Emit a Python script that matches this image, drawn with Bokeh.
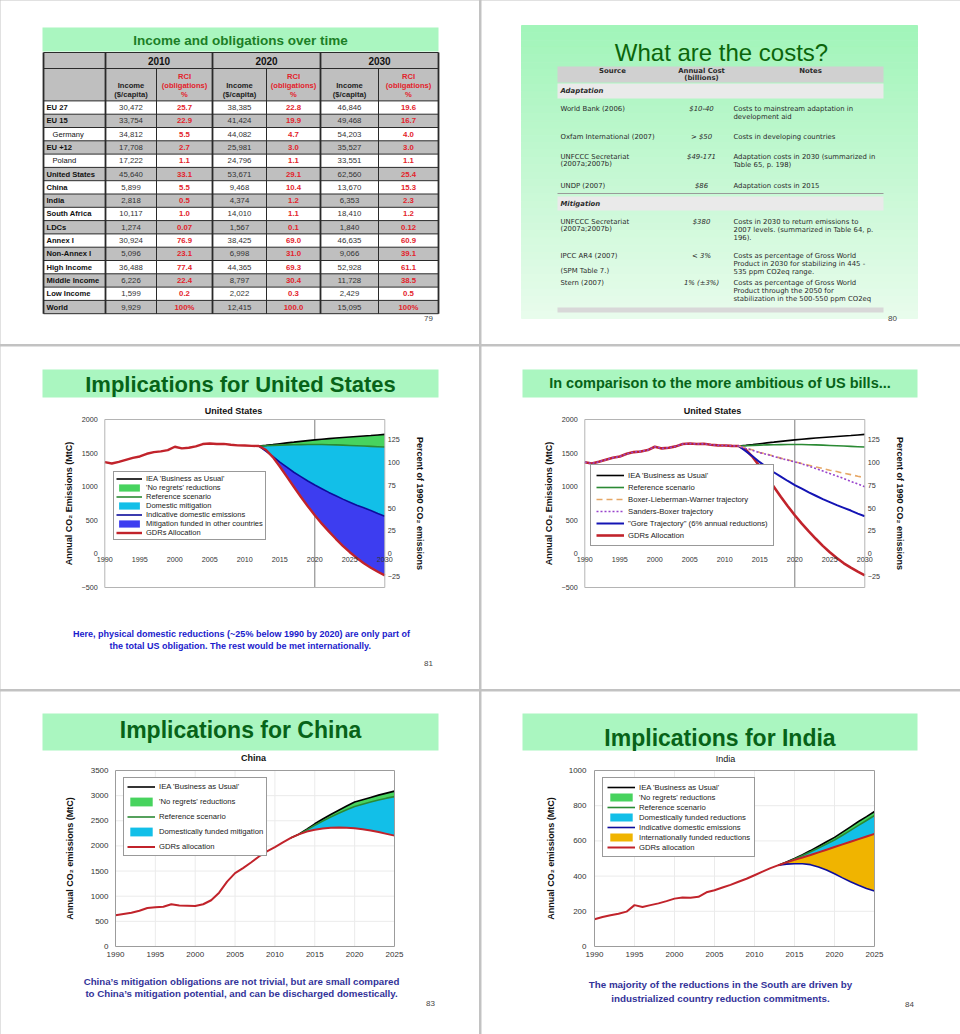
from bokeh.plotting import figure
from bokeh.models import (Range1d, LinearAxis, Legend, LegendItem, FixedTicker)
from bokeh.layouts import row, column
from bokeh.embed import file_html
from bokeh.resources import INLINE
from bokeh.core.properties import value

SANS = "Liberation Sans"
WIDE = "DejaVu Sans"
MINT = "#aaf6c0"
TITLE_GREEN = "#076318"
DIV = "#c2c2c2"
GRAY = "#bfbfbf"
RED_TXT = "#e3232c"

# ====================== DATA ======================
# --- slide 79 table ---
T79_TITLE = "Income and obligations over time"
T79_YEARS = ["2010", "2020", "2030"]
T79_ROWS = ["EU 27", "EU 15", "Germany", "EU +12", "Poland", "United States", "China", "India",
            "South Africa", "LDCs", "Annex I", "Non-Annex I", "High Income", "Middle Income",
            "Low Income", "World"]
T79_INDENTED = ["Germany", "Poland"]
INC_2010 = ["30,472", "33,754", "34,812", "17,708", "17,222", "45,640", "5,899", "2,818", "10,117",
            "1,274", "30,924", "5,096", "36,488", "6,226", "1,599", "9,929"]
RCI_2010 = ["25.7", "22.9", "5.5", "2.7", "1.1", "33.1", "5.5", "0.5", "1.0", "0.07", "76.9", "23.1",
            "77.4", "22.4", "0.2", "100%"]
INC_2020 = ["38,385", "41,424", "44,082", "25,981", "24,796", "53,671", "9,468", "4,374", "14,010",
            "1,567", "38,425", "6,998", "44,365", "8,797", "2,022", "12,415"]
RCI_2020 = ["22.8", "19.9", "4.7", "3.0", "1.1", "29.1", "10.4", "1.2", "1.1", "0.1", "69.0", "31.0",
            "69.3", "30.4", "0.3", "100.0"]
INC_2030 = ["46,846", "49,468", "54,203", "35,527", "33,551", "62,560", "13,670", "6,353", "18,410",
            "1,840", "46,635", "9,066", "52,928", "11,728", "2,429", "15,095"]
RCI_2030 = ["19.6", "16.7", "4.0", "3.0", "1.1", "25.4", "15.3", "2.3", "1.2", "0.12", "60.9", "39.1",
            "61.1", "38.5", "0.5", "100%"]

# --- slide 80 table ---
S80_TITLE = "What are the costs?"
S80_HEAD = ["Source", "Annual Cost", "(billions)", "Notes"]
S80_SECTIONS = ["Adaptation", "Mitigation"]
S80_SOURCES = [["World Bank (2006)"], ["Oxfam International (2007)"],
               ["UNFCCC Secretariat", "(2007a;2007b)"], ["UNDP (2007)"],
               ["UNFCCC Secretariat", "(2007a;2007b)"], ["IPCC AR4 (2007)", "", "(SPM Table 7.)"],
               ["Stern (2007)"]]
S80_COSTS = ["$10-40", "> $50", "$49-171", "$86", "$380", "< 3%", "1% (\u00b13%)"]
S80_NOTES = [["Costs to mainstream adaptation in", "development aid"],
             ["Costs in developing countries"],
             ["Adaptation costs in 2030 (summarized in", "Table 65, p. 198)"],
             ["Adaptation costs in 2015"],
             ["Costs in 2030 to return emissions to", "2007 levels. (summarized in Table 64, p.", "196)."],
             ["Costs as percentage of Gross World", "Product in 2030 for stabilizing in 445 -",
              "535 ppm CO2eq range."],
             ["Costs as percentage of Gross World", "Product through the 2050 for",
              "stabilization in the 500-550 ppm CO2eq"]]

# --- United States (slides 81, 82) ---
US_HIST_YEARS = list(range(1990, 2013))
US_HIST = [1365, 1345, 1370, 1400, 1430, 1450, 1490, 1515, 1525, 1545, 1595, 1570, 1580, 1600,
           1635, 1642, 1636, 1638, 1625, 1615, 1613, 1608, 1605]
US_PROJ_YEARS = list(range(2012, 2031))
US_BAU = [1605, 1615, 1627, 1640, 1652, 1663, 1675, 1686, 1697, 1706, 1715, 1724, 1732, 1740,
          1748, 1755, 1762, 1770, 1778]
US_REF = [1605, 1610, 1615, 1619, 1622, 1624, 1626, 1627, 1628, 1627, 1625, 1622, 1618, 1614,
          1610, 1605, 1600, 1595, 1590]
US_DOM = [1605, 1530, 1450, 1365, 1290, 1215, 1150, 1085, 1025, 970, 915, 865, 815, 770, 725,
          685, 645, 600, 560]
US_GDR = [1605, 1550, 1440, 1300, 1150, 1000, 850, 710, 575, 450, 335, 225, 120, 25, -60, -140,
          -205, -265, -320]
US_BLW = [1605, 1575, 1545, 1510, 1485, 1455, 1425, 1400, 1370, 1345, 1320, 1295, 1270, 1245,
          1225, 1200, 1180, 1155, 1135]
US_SB = [1605, 1570, 1540, 1505, 1480, 1450, 1420, 1395, 1370, 1340, 1305, 1270, 1235, 1195,
         1160, 1120, 1080, 1040, 1000]
US_X0, US_X1, US_Y0, US_Y1 = 1990, 2030, -500, 2000
US_XTICKS = [1990, 1995, 2000, 2005, 2010, 2015, 2020, 2025, 2030]
US_YTICKS = [-500, 0, 500, 1000, 1500, 2000]
US_PCT_TICKS = [-25, 0, 25, 50, 75, 100, 125]
US_MARK_YEAR = 2020
US_LEG_81 = ["IEA 'Business as Usual'", "'No regrets' reductions", "Reference scenario",
             "Domestic mitigation", "Indicative domestic emissions",
             "Mitigation funded in other countries", "GDRs Allocation"]
US_LEG_82 = ["IEA 'Business as Usual'", "Reference scenario", "Boxer-Lieberman-Warner trajectory",
             "Sanders-Boxer trajectory", "\"Gore Trajectory\" (6% annual reductions)",
             "GDRs Allocation"]

# --- China (slide 83) ---
CN_YEARS = list(range(1990, 2026))
CN_GDR = [620, 645, 670, 710, 765, 780, 790, 840, 815, 810,
          805, 840, 920, 1070, 1290, 1460, 1560, 1670, 1790, 1890,
          1975, 2070, 2160, 2230, 2285, 2320, 2345, 2360, 2365, 2360,
          2350, 2330, 2305, 2275, 2240, 2205]
CN_PROJ_YEARS = list(range(2012, 2026))
CN_BAU = [2160, 2235, 2335, 2440, 2535, 2625, 2710, 2795, 2875, 2920, 2965, 3010, 3050, 3090]
CN_REF = [2160, 2230, 2320, 2410, 2495, 2575, 2650, 2720, 2785, 2830, 2875, 2915, 2950, 2980]
CN_X0, CN_X1, CN_Y0, CN_Y1 = 1990, 2025, 0, 3500
CN_XTICKS = [1990, 1995, 2000, 2005, 2010, 2015, 2020, 2025]
CN_YTICKS = [0, 500, 1000, 1500, 2000, 2500, 3000, 3500]
CN_LEG = ["IEA 'Business as Usual'", "'No regrets' reductions", "Reference scenario",
          "Domestically funded mitigation", "GDRs allocation"]

# --- India (slide 84) ---
IN_YEARS = list(range(1990, 2026))
IN_GDR = [155, 168, 178, 186, 198, 235, 225, 235, 245, 258,
          272, 278, 277, 282, 308, 320, 335, 350, 368, 385,
          405, 425, 445, 462, 478, 492, 506, 520, 535, 550,
          565, 580, 595, 610, 625, 640]
IN_PROJ_YEARS = list(range(2013, 2026))
IN_BAU = [462, 480, 500, 522, 545, 570, 595, 620, 650, 680, 710, 738, 767]
IN_REF = [462, 478, 497, 517, 538, 560, 582, 605, 632, 660, 688, 716, 744]
IN_DOM = [462, 468, 470, 470, 465, 452, 435, 413, 390, 368, 348, 330, 315]
IN_X0, IN_X1, IN_Y0, IN_Y1 = 1990, 2025, 0, 1000
IN_XTICKS = [1990, 1995, 2000, 2005, 2010, 2015, 2020, 2025]
IN_YTICKS = [0, 200, 400, 600, 800, 1000]
IN_LEG = ["IEA 'Business as Usual'", "'No regrets' reductions", "Reference scenario",
          "Domestically funded reductions", "Indicative domestic emissions",
          "Internationally funded reductions", "GDRs allocation"]

# --- slide texts ---
T81 = "Implications for United States"
T82 = "In comparison to the more ambitious of US bills..."
T83 = "Implications for China"
T84 = "Implications for India"
CAP81 = ["Here, physical domestic reductions (~25% below 1990 by 2020) are only part of",
         "the total US obligation.  The rest would be met internationally."]
CAP83 = ["China\u2019s mitigation obligations are not trivial, but are small compared",
         "to China\u2019s mitigation potential, and can be discharged domestically."]
CAP84 = ["The majority of the reductions in the South are driven by",
         "industrialized country reduction commitments."]

# colours of series
C_BAU = "#000000"
C_REF = "#2b8a34"
C_NOREG = "#47d35e"
C_DOMFILL = "#12bfe8"
C_INTFILL = "#3d3df0"
C_DOM = "#0c0c9c"
C_GDR = "#c1232b"
C_ORANGE = "#f0b400"
C_BLW = "#e6a766"
C_SB = "#9944cc"

COLW = 479          # width of one slide column (two columns + 2px divider = 960)
LEFT_X, RIGHT_X = 0, 481
ROWS = [(0, 344), (346, 689), (691, 1034)]


# ====================== HELPERS ======================
class Map:
    """linear map from reference-page pixels to a slide's data coordinates"""
    def __init__(self, rxa, dxa, rxb, dxb, rya, dya, ryb, dyb):
        self.kx = (dxb - dxa) / (rxb - rxa)
        self.bx = dxa - rxa * self.kx
        self.ky = (dyb - dya) / (ryb - rya)
        self.by = dya - rya * self.ky

    def X(self, rx):
        return self.bx + self.kx * rx

    def Y(self, ry):
        return self.by + self.ky * ry


def slide_fig(m, rx0, ry0, ry1):
    p = figure(width=COLW, height=int(round(ry1 - ry0)),
               x_range=Range1d(m.X(rx0), m.X(rx0 + COLW)),
               y_range=Range1d(m.Y(ry1), m.Y(ry0)), x_axis_location=None,
               y_axis_location=None, toolbar_location=None, output_backend="svg", min_border=0)
    p.outline_line_color = None
    p.grid.visible = False
    p.background_fill_color = "white"
    p.border_fill_color = "white"
    return p


def txt(p, m, rxs, rys, texts, size, color="#000000", style="normal", align="center", font=SANS):
    p.text(x=[m.X(v) for v in rxs], y=[m.Y(v) for v in rys], text=texts, text_font=value(font),
           text_font_size=size, text_font_style=style, text_color=color, text_align=align,
           text_baseline="middle")


def pbox(p, m, l, r, t, b, color, line=None):
    p.quad(left=[m.X(l)], right=[m.X(r)], top=[m.Y(t)], bottom=[m.Y(b)], fill_color=color,
           line_color=line)


def style_axis(ax, size="7.5px", standoff=5, label_standoff=5):
    ax.axis_line_color = None
    ax.major_tick_line_color = None
    ax.minor_tick_line_color = None
    ax.major_tick_out = 0
    ax.major_tick_in = 0
    ax.major_label_standoff = standoff
    ax.major_label_text_font = SANS
    ax.major_label_text_font_size = size
    ax.major_label_text_color = "#333333"
    ax.axis_label_standoff = label_standoff
    ax.axis_label_text_font = SANS
    ax.axis_label_text_font_size = "9px"
    ax.axis_label_text_font_style = "bold"
    ax.axis_label_text_color = "#111111"
    ax.level = "overlay"


def make_legend(p, labels, renderers, loc, gh, sp, pad, gw=27, fs="7.7px"):
    lg = Legend(items=[LegendItem(label=l, renderers=[r]) for l, r in zip(labels, renderers)],
                location=loc, margin=0, padding=pad, spacing=sp, glyph_height=gh,
                label_height=gh, glyph_width=gw, label_standoff=4,
                label_text_font=SANS, label_text_font_size=fs,
                label_text_color="#222222", border_line_color="#333333",
                border_line_width=1, background_fill_color="white",
                background_fill_alpha=1.0)
    p.add_layout(lg)


def slide_head(p, m, bar, title, tsize, ty, ctitle, cx, cy, cstyle):
    pbox(p, m, bar[0], bar[1], bar[2], bar[3], MINT)
    txt(p, m, [(bar[0] + bar[1]) / 2], [ty], [title], tsize, TITLE_GREEN, "bold")
    txt(p, m, [cx], [cy], [ctitle], "9px", "#111111", cstyle)


# ====================== SLIDE 79 ======================
m79 = Map(0, 0, 1, 1, 0, 0, 1, 1)
p79 = slide_fig(m79, LEFT_X, *ROWS[0])
COL_EDGES = [43, 105, 156, 212, 266, 320, 378, 438]
H1_TOP, H2_TOP, H2_BOT, PITCH = 52, 68, 100.4, 13.3
p79.quad(left=[42], right=[438], top=[27], bottom=[51], fill_color=MINT, line_color=None)
txt(p79, m79, [240], [39.5], [T79_TITLE], "13.5px", "#1c7f26", "bold")
p79.quad(left=[COL_EDGES[0]], right=[COL_EDGES[-1]], top=[H1_TOP], bottom=[H2_BOT],
         fill_color=GRAY, line_color=None)
n = len(T79_ROWS)
tops = [H2_BOT + i * PITCH for i in range(n)]
p79.quad(left=[COL_EDGES[0]] * n, right=[COL_EDGES[-1]] * n, top=tops,
         bottom=[t + PITCH for t in tops],
         fill_color=[GRAY if i % 2 else "white" for i in range(n)], line_color=None)
table_bot = tops[-1] + PITCH
hy = [H1_TOP, H2_TOP, H2_BOT] + [t + PITCH for t in tops]
p79.segment(x0=[COL_EDGES[0]] * len(hy), x1=[COL_EDGES[-1]] * len(hy), y0=hy, y1=hy,
            line_color="#2a2a2a", line_width=1)
thick = [COL_EDGES[0], COL_EDGES[1], COL_EDGES[3], COL_EDGES[5], COL_EDGES[7]]
thin = [COL_EDGES[2], COL_EDGES[4], COL_EDGES[6]]
p79.segment(x0=thick, x1=thick, y0=[H1_TOP] * 5, y1=[table_bot] * 5, line_color="#2a2a2a",
            line_width=1.8)
p79.segment(x0=thin, x1=thin, y0=[H2_TOP] * 3, y1=[table_bot] * 3, line_color="#2a2a2a",
            line_width=1)
ycx = [(COL_EDGES[1] + COL_EDGES[3]) / 2, (COL_EDGES[3] + COL_EDGES[5]) / 2,
       (COL_EDGES[5] + COL_EDGES[7]) / 2]
txt(p79, m79, ycx, [(H1_TOP + H2_TOP) / 2] * 3, T79_YEARS, "10px", "#111111", "bold")
ccx = [(COL_EDGES[j] + COL_EDGES[j + 1]) / 2 for j in range(1, 7)]
inc_x = [ccx[0], ccx[2], ccx[4]]
rci_x = [ccx[1], ccx[3], ccx[5]]
for t, yy in (("Income", 85), ("($/capita)", 94.3)):
    txt(p79, m79, inc_x, [yy] * 3, [t] * 3, "7.6px", "#222222", "bold")
for t, yy in (("RCI", 75.5), ("(obligations)", 85), ("%", 94.3)):
    txt(p79, m79, rci_x, [yy] * 3, [t] * 3, "7.6px", RED_TXT, "bold")
rcy = [t + PITCH / 2 for t in tops]
p79.text(x=[52 if r in T79_INDENTED else 46 for r in T79_ROWS], y=rcy, text=T79_ROWS,
         text_font=value(SANS),
         text_font_style=["normal" if r in T79_INDENTED else "bold" for r in T79_ROWS],
         text_font_size="7.6px", text_color="#111111", text_align="left",
         text_baseline="middle")
for j, (vals, rci) in enumerate([(INC_2010, False), (RCI_2010, True), (INC_2020, False),
                                 (RCI_2020, True), (INC_2030, False), (RCI_2030, True)]):
    txt(p79, m79, [ccx[j]] * n, rcy, vals, "7.8px", RED_TXT if rci else "#333333",
        "bold" if rci else "normal")
txt(p79, m79, [428], [318], ["79"], "8px", "#444444")

# ====================== SLIDE 80 ======================
m80 = Map(0, 0, 1, 1, 0, 0, 1, 1)
p80 = slide_fig(m80, RIGHT_X, *ROWS[0])
NB = 40
bg_top, bg_bot = 25, 318
c0, c1 = (162, 245, 186), (232, 252, 236)
bands_t = [bg_top + (bg_bot - bg_top) * k / NB for k in range(NB)]
bands_b = [bg_top + (bg_bot - bg_top) * (k + 1) / NB for k in range(NB)]
bands_c = ["#%02x%02x%02x" % tuple(int(c0[i] + (c1[i] - c0[i]) * k / (NB - 1)) for i in range(3))
           for k in range(NB)]
p80.quad(left=[521] * NB, right=[917] * NB, top=bands_t, bottom=bands_b, fill_color=bands_c,
         line_color=bands_c, line_width=1)
txt(p80, m80, [721], [52], [S80_TITLE], "24px", "#0b650b")
p80.quad(left=[557], right=[883], top=[66], bottom=[82], fill_color="#d0d0d0", line_color=None)
p80.quad(left=[557, 557], right=[883, 883], top=[83, 196], bottom=[98, 210],
         fill_color="#eaeaea", line_color=None)
p80.quad(left=[557], right=[883], top=[307], bottom=[312], fill_color="#d8d8d8", line_color=None)
p80.segment(x0=[557], x1=[883], y0=[193], y1=[193], line_color="#9a9a9a", line_width=1)
txt(p80, m80, [612, 701, 701, 810], [70, 70, 77.5, 70], S80_HEAD, "6.9px", "#2a2a2a", "bold",
    font=WIDE)
txt(p80, m80, [560, 560], [90.5, 203], S80_SECTIONS, "6.9px", "#2a2a2a", "bold italic", "left",
    font=WIDE)
ROW_Y = [108, 136, 156, 185, 221, 255, 282]
LP = 8
sx, sy, st = [], [], []
nx, ny, nt = [], [], []
for y0, srcs, notes in zip(ROW_Y, S80_SOURCES, S80_NOTES):
    for k, s in enumerate(srcs):
        if s:
            sx.append(560); sy.append(y0 + k * LP * 0.95); st.append(s)
    for k, s in enumerate(notes):
        nx.append(733); ny.append(y0 + k * LP); nt.append(s)
txt(p80, m80, sx, sy, st, "6.9px", "#2a2a2a", "normal", "left", font=WIDE)
txt(p80, m80, nx, ny, nt, "6.9px", "#2a2a2a", "normal", "left", font=WIDE)
txt(p80, m80, [701] * len(S80_COSTS), ROW_Y, S80_COSTS, "6.9px", "#2a2a2a", "italic", font=WIDE)
txt(p80, m80, [892], [318], ["80"], "8px", "#444444")


# ====================== US CHART (81, 82) ======================
def us_slide(rx0, box_left):
    # chart box: x 1990..2030 spans ref px box_left .. box_left+280 ; y 2000..-500 spans 419..587
    m = Map(box_left, US_X0, box_left + 280, US_X1, 419, US_Y1, 587, US_Y0)
    ry0, ry1 = ROWS[1]
    p = slide_fig(m, rx0, ry0, ry1)
    base = US_HIST[0]
    p.extra_y_ranges = {"pct": Range1d(m.Y(ry1) / base * 100, m.Y(ry0) / base * 100)}
    left = LinearAxis(fixed_location=US_X0, bounds=(US_Y0, US_Y1),
                      ticker=FixedTicker(ticks=US_YTICKS),
                      axis_label="Annual CO\u2082 Emissions (MtC)")
    style_axis(left, "7.2px", 7, 4)
    p.add_layout(left, "left")
    right = LinearAxis(y_range_name="pct", fixed_location=US_X1,
                       bounds=(US_Y0 / base * 100, US_Y1 / base * 100),
                       ticker=FixedTicker(ticks=US_PCT_TICKS),
                       axis_label="Percent of 1990 CO\u2082 emissions")
    style_axis(right, "7.2px", 3, 12)
    p.add_layout(right, "right")
    bot = LinearAxis(fixed_location=0, bounds=(US_X0, US_X1), ticker=FixedTicker(ticks=US_XTICKS))
    style_axis(bot, "7.2px", 3, 0)
    p.add_layout(bot, "below")
    p.segment(x0=[US_MARK_YEAR], x1=[US_MARK_YEAR], y0=[US_Y0], y1=[US_Y1], line_color="#7c7c7c",
              line_width=1)
    return p, m


def us_box(p):
    p.quad(left=[US_X0], right=[US_X1], bottom=[US_Y0], top=[US_Y1], fill_color=None,
           line_color="#b4b4b4", line_width=1)


p81, m81 = us_slide(LEFT_X, 104.3)
slide_head(p81, m81, (42, 438, 369, 397), T81, "22px", 384, "United States", 233, 410, "bold")
txt(p81, m81, [241, 241], [633, 645], CAP81, "9px", "#1a1acc", "bold")
txt(p81, m81, [428], [663], ["81"], "8px", "#444444")
r_nr = p81.varea(x=US_PROJ_YEARS, y1=US_BAU, y2=US_REF, fill_color=C_NOREG)
r_dm = p81.varea(x=US_PROJ_YEARS, y1=US_REF, y2=US_DOM, fill_color=C_DOMFILL)
r_im = p81.varea(x=US_PROJ_YEARS, y1=US_DOM, y2=US_GDR, fill_color=C_INTFILL)
r_bau = p81.line(US_PROJ_YEARS, US_BAU, line_color=C_BAU, line_width=1.6)
r_ref = p81.line(US_PROJ_YEARS, US_REF, line_color=C_REF, line_width=1.6)
r_dom = p81.line(US_PROJ_YEARS, US_DOM, line_color=C_DOM, line_width=1.6)
r_gdr = p81.line(US_HIST_YEARS + US_PROJ_YEARS[1:], US_HIST + US_GDR[1:], line_color=C_GDR,
                 line_width=2.4)
us_box(p81)
make_legend(p81, US_LEG_81, [r_bau, r_nr, r_ref, r_dm, r_dom, r_im, r_gdr],
            (113 - LEFT_X, ROWS[1][1] - 540), 9, 0, 2, 26, "7.5px")

p82, m82 = us_slide(RIGHT_X, 584.3)
slide_head(p82, m82, (522, 917, 369, 397), T82, "14.5px", 382, "United States", 712, 410, "bold")
q_bau = p82.line(US_PROJ_YEARS, US_BAU, line_color=C_BAU, line_width=1.6)
q_ref = p82.line(US_PROJ_YEARS, US_REF, line_color=C_REF, line_width=1.6)
q_gdr = p82.line(US_HIST_YEARS + US_PROJ_YEARS[1:], US_HIST + US_GDR[1:], line_color=C_GDR,
                 line_width=2.6)
q_gore = p82.line(US_PROJ_YEARS, US_DOM, line_color="#1414b4", line_width=2)
q_blw = p82.line(US_PROJ_YEARS, US_BLW, line_color=C_BLW, line_width=1.6, line_dash="6 4")
q_sb = p82.line(US_HIST_YEARS + US_PROJ_YEARS[1:], US_HIST + US_SB[1:], line_color=C_SB,
                line_width=1.6, line_dash="2 2")
us_box(p82)
make_legend(p82, US_LEG_82, [q_bau, q_ref, q_blw, q_sb, q_gore, q_gdr],
            (590 - RIGHT_X, ROWS[1][1] - 546), 10, 2, 5, 28)


# ====================== CHINA / INDIA ======================
def south_slide(rx0, box_l, box_r, x0, x1, y0, y1, xt, yt, ylab_standoff, ytick_standoff):
    m = Map(box_l, x0, box_r, x1, 770, y1, 946, y0)
    p = slide_fig(m, rx0, *ROWS[2])
    gx = [t for t in xt if x0 < t < x1]
    gy = [t for t in yt if y0 < t < y1]
    p.segment(x0=gx, x1=gx, y0=[y0] * len(gx), y1=[y1] * len(gx), line_color="#ebebeb",
              line_width=1)
    p.segment(x0=[x0] * len(gy), x1=[x1] * len(gy), y0=gy, y1=gy, line_color="#ebebeb",
              line_width=1)
    bx = LinearAxis(fixed_location=y0, bounds=(x0, x1), ticker=FixedTicker(ticks=xt))
    style_axis(bx, "8px", 5, 0)
    p.add_layout(bx, "below")
    ly = LinearAxis(fixed_location=x0, bounds=(y0, y1), ticker=FixedTicker(ticks=yt),
                    axis_label="Annual CO\u2082 emissions (MtC)")
    style_axis(ly, "8px", ytick_standoff, ylab_standoff)
    p.add_layout(ly, "left")
    return p, m


def south_box(p, x0, x1, y0, y1):
    p.quad(left=[x0], right=[x1], bottom=[y0], top=[y1], fill_color=None, line_color="#9c9c9c",
           line_width=1)


p83, m83 = south_slide(LEFT_X, 115, 394, CN_X0, CN_X1, CN_Y0, CN_Y1, CN_XTICKS, CN_YTICKS, 13, 7)
slide_head(p83, m83, (42, 438, 713, 750), T83, "23px", 729, "China", 253, 757, "bold")
txt(p83, m83, [241, 241], [981, 993], CAP83, "9.7px", "#333399", "bold")
txt(p83, m83, [430], [1003], ["83"], "8px", "#444444")
cn_gdr_proj = CN_GDR[CN_YEARS.index(CN_PROJ_YEARS[0]):]
c_nr = p83.varea(x=CN_PROJ_YEARS, y1=CN_BAU, y2=CN_REF, fill_color=C_NOREG)
c_dm = p83.varea(x=CN_PROJ_YEARS, y1=CN_REF, y2=cn_gdr_proj, fill_color=C_DOMFILL)
c_bau = p83.line(CN_PROJ_YEARS, CN_BAU, line_color=C_BAU, line_width=1.6)
c_ref = p83.line(CN_PROJ_YEARS, CN_REF, line_color=C_REF, line_width=1.6)
c_gdr = p83.line(CN_YEARS, CN_GDR, line_color=C_GDR, line_width=2)
south_box(p83, CN_X0, CN_X1, CN_Y0, CN_Y1)
make_legend(p83, CN_LEG, [c_bau, c_nr, c_ref, c_dm, c_gdr],
            (123 - LEFT_X, ROWS[2][1] - 856), 11, 4, 3, 28)

p84, m84 = south_slide(RIGHT_X, 594, 874, IN_X0, IN_X1, IN_Y0, IN_Y1, IN_XTICKS, IN_YTICKS, 10, 8)
slide_head(p84, m84, (522, 917, 713, 750), T84, "23px", 737, "India", 725, 758, "normal")
txt(p84, m84, [720, 720], [984, 998], CAP84, "9.8px", "#333399", "bold")
txt(p84, m84, [909], [1004], ["84"], "8px", "#444444")
in_gdr_proj = IN_GDR[IN_YEARS.index(IN_PROJ_YEARS[0]):]
i_nr = p84.varea(x=IN_PROJ_YEARS, y1=IN_BAU, y2=IN_REF, fill_color=C_NOREG)
i_dm = p84.varea(x=IN_PROJ_YEARS, y1=IN_REF, y2=in_gdr_proj, fill_color=C_DOMFILL)
i_im = p84.varea(x=IN_PROJ_YEARS, y1=in_gdr_proj, y2=IN_DOM, fill_color=C_ORANGE)
i_bau = p84.line(IN_PROJ_YEARS, IN_BAU, line_color=C_BAU, line_width=1.6)
i_ref = p84.line(IN_PROJ_YEARS, IN_REF, line_color=C_REF, line_width=1.6)
i_dom = p84.line(IN_PROJ_YEARS, IN_DOM, line_color=C_DOM, line_width=1.6)
i_gdr = p84.line(IN_YEARS, IN_GDR, line_color=C_GDR, line_width=2)
south_box(p84, IN_X0, IN_X1, IN_Y0, IN_Y1)
make_legend(p84, IN_LEG, [i_bau, i_nr, i_ref, i_dm, i_dom, i_im, i_gdr],
            (602 - RIGHT_X, ROWS[2][1] - 857), 10, 0, 4, 28)

BG = {"background-color": DIV}
layout = column(
    row(p79, p80, spacing=2, styles=BG),
    row(p81, p82, spacing=2, styles=BG),
    row(p83, p84, spacing=2, styles=BG),
    spacing=2, styles=BG)
open("out.html", "w").write(file_html(layout, INLINE))
